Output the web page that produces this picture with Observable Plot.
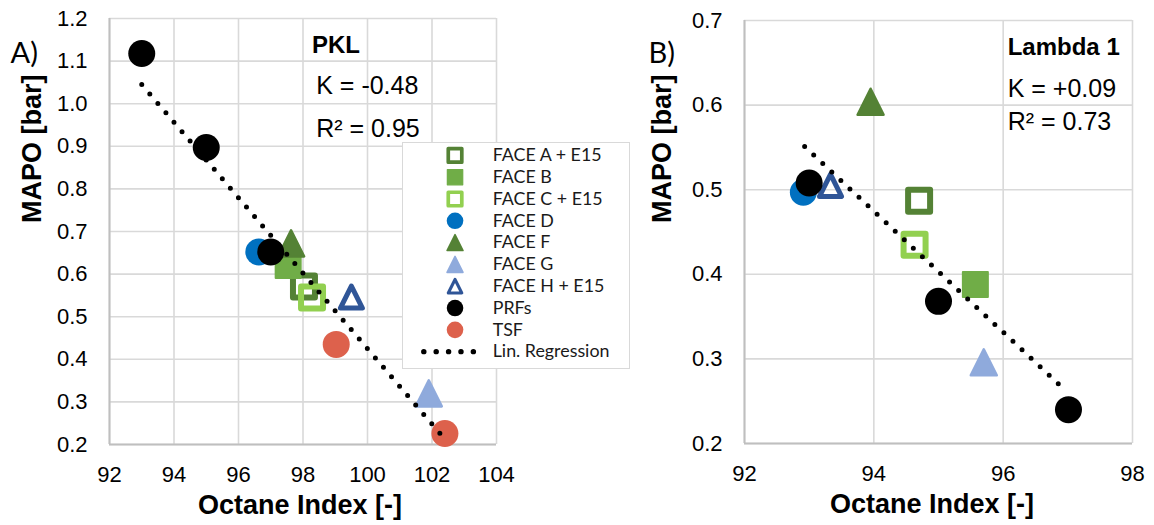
<!DOCTYPE html>
<html><head><meta charset="utf-8">
<script src="https://cdn.jsdelivr.net/npm/d3@7"></script>
<script src="https://cdn.jsdelivr.net/npm/@observablehq/plot@0.6"></script>
<style>
body{margin:0;background:#fff}
#wrap{position:relative;width:1154px;height:525px;overflow:hidden}
.panel{position:absolute;top:0}
#legend{position:absolute;left:402px;top:142px;width:228px;height:227px;background:#fff;border:1px solid #d9d9d9;box-sizing:border-box;z-index:5}
#legend svg{position:absolute;left:-1px;top:-1px}
</style>
</head><body>
<div id="wrap">
  <div id="pA" class="panel" style="left:0"></div>
  <div id="pB" class="panel" style="left:577px"></div>
  <div id="legend"></div>
</div>
<script>
// ---------- data ----------
const categories = ["FACE A + E15","FACE B","FACE C + E15","FACE D","FACE F","FACE G","FACE H + E15","PRFs","TSF"];
const catColors  = ["#548235","#70ad47","#92d050","#0070c0","#548235","#8faadc","#2f5597","#000000","#dd614c"];
const catShapes  = ["square","square","square","circle","triangle","triangle","triangle","circle","circle"];
const catHollow  = [true,false,true,false,false,false,true,false,false];

// Panel A: PKL
const pklSeries = ["FACE A + E15","FACE B","FACE C + E15","FACE D","FACE F","FACE G","FACE H + E15","PRFs","PRFs","PRFs","TSF","TSF"];
const pklOctane = [98.03, 97.54, 98.28, 96.63, 97.63, 101.9, 99.5, 93.0, 95.0, 97.0, 99.03, 102.4];
const pklMapo   = [0.571, 0.620, 0.545, 0.652, 0.672, 0.320, 0.546, 1.118, 0.897, 0.652, 0.435, 0.226];
const pklRegOctane = [93.0, 102.45];
const pklRegMapo   = [1.045, 0.208];

// Panel B: Lambda 1
const lamSeries = ["FACE A + E15","FACE B","FACE C + E15","FACE D","FACE F","FACE G","FACE H + E15","PRFs","PRFs","PRFs"];
const lamOctane = [94.70, 95.57, 94.63, 92.91, 93.95, 95.70, 93.33, 93.00, 95.00, 97.01];
const lamMapo   = [0.487, 0.388, 0.435, 0.497, 0.604, 0.296, 0.505, 0.508, 0.368, 0.240];
const lamRegOctane = [92.93, 96.96];
const lamRegMapo   = [0.551, 0.263];

const xTicksA = [92,94,96,98,100,102,104];
const yTicksA = [0.2,0.3,0.4,0.5,0.6,0.7,0.8,0.9,1.0,1.1,1.2];
const xTicksB = [92,94,96,98];
const yTicksB = [0.2,0.3,0.4,0.5,0.6,0.7];

const legendNames = [...categories, "Lin. Regression"];

// ---------- helpers ----------
const SQ = {draw(ctx,size){const h=Math.sqrt(size)/2;ctx.moveTo(-h,-h);ctx.lineTo(h,-h);ctx.lineTo(h,h);ctx.lineTo(-h,h);ctx.closePath();}};
const TRI = {draw(ctx,size){const h=Math.sqrt(size)/2;ctx.moveTo(0,-h);ctx.lineTo(h,h);ctx.lineTo(-h,h);ctx.closePath();}};
const rSide = s => s/Math.sqrt(Math.PI);

function markerOpts(i, k){
  const shape = catShapes[i], col = catColors[i], hol = catHollow[i];
  if (shape === "circle") return {symbol:"circle", r:13.5*k, fill:col, stroke:"none"};
  if (shape === "square") {
    if (hol) return {symbol:SQ, r:rSide(22*k), fill:"none", stroke:col, strokeWidth:6*k, strokeLinejoin:"round"};
    return {symbol:SQ, r:rSide(25*k), fill:col, stroke:col, strokeWidth:2*k, strokeLinejoin:"round"};
  }
  if (hol) return {symbol:TRI, r:rSide(22*k), fill:"none", stroke:col, strokeWidth:5*k, strokeLinejoin:"round"};
  return {symbol:TRI, r:rSide(26*k), fill:col, stroke:col, strokeWidth:2.5*k, strokeLinejoin:"round"};
}

function panel(opt){
  const pts = opt.series.map((s,i)=>({series:s, octane:opt.octane[i], mapo:opt.mapo[i]}));
  const reg = opt.regX.map((x,i)=>({octane:x, mapo:opt.regY[i]}));
  const seriesMarks = categories.map((c,i)=>{
    const d = pts.filter(p=>p.series===c);
    return d.length ? Plot.dot(d,{x:"octane", y:"mapo", ...markerOpts(i,1)}) : null;
  }).filter(Boolean);
  const textBase = {fontFamily:"Liberation Sans, Arial, sans-serif", textAnchor:"start", lineAnchor:"middle", fill:"#000"};
  return Plot.plot({
    width:577, height:525,
    marginLeft:opt.ml, marginRight:opt.mr, marginTop:opt.mt, marginBottom:opt.mb,
    x:{domain:opt.xDomain, label:null},
    y:{domain:opt.yDomain, label:null},
    style:{fontFamily:"Liberation Sans, Arial, sans-serif", fontSize:"22px", color:"#000", background:"transparent", overflow:"visible"},
    marks:[
      Plot.gridX(opt.xTicks,{stroke:"#d9d9d9", strokeOpacity:1, strokeWidth:1.6}),
      Plot.gridY(opt.yTicks,{stroke:"#d9d9d9", strokeOpacity:1, strokeWidth:1.6}),
      Plot.ruleX([opt.xDomain[0]],{stroke:"#bfbfbf", strokeWidth:2}),
      Plot.ruleY([opt.yDomain[0]],{stroke:"#bfbfbf", strokeWidth:2}),
      Plot.axisX(opt.xTicks,{tickSize:0, tickPadding:22, label:null, tickFormat:d=>String(d)}),
      Plot.axisY(opt.yTicks,{tickSize:0, tickPadding:22, label:null, tickFormat:d3.format(".1f")}),
      ...seriesMarks,
      Plot.line(reg,{x:"octane", y:"mapo", stroke:"#000", strokeWidth:5, strokeDasharray:"0 12.4", strokeLinecap:"round"}),
      Plot.text([opt.title],{x:opt.annX, y:opt.annY[0], ...textBase, fontWeight:"bold", fontSize:24}),
      Plot.text([opt.kText],{x:opt.annX2, y:opt.annY[1], ...textBase, fontSize:25}),
      Plot.text([opt.rText],{x:opt.annX2, y:opt.annY[2], ...textBase, fontSize:25}),
      Plot.text([opt.tag],{frameAnchor:"top-left", dx:opt.tagDx, dy:opt.tagDy, text:d=>d, textAnchor:"start", lineAnchor:"middle", fontFamily:"Lato, Carlito, sans-serif", fontSize:29}),
      Plot.text(["Octane Index [-]"],{frameAnchor:"bottom", dx:opt.xtDx, dy:61, text:d=>d, lineAnchor:"middle", fontWeight:"bold", fontSize:27}),
      Plot.text(["MAPO [bar]"],{frameAnchor:"left", rotate:-90, dx:opt.ytDx, dy:opt.ytDy, text:d=>d, lineAnchor:"middle", fontWeight:"bold", fontSize:27})
    ]
  });
}

document.getElementById("pA").append(panel({
  series:pklSeries, octane:pklOctane, mapo:pklMapo, regX:pklRegOctane, regY:pklRegMapo,
  xDomain:[92,104], yDomain:[0.2,1.2], xTicks:xTicksA, yTicks:yTicksA,
  ml:109, mr:81, mt:18, mb:81,
  title:"PKL", kText:"K = -0.48", rText:"R\u00b2 = 0.95",
  annX:98.28, annX2:98.41, annY:[1.137, 1.0415, 0.9406],
  tag:"A)", tagDx:-99, tagDy:35, xtDx:-3, ytDx:-77, ytDy:-8.5
}));

document.getElementById("pB").append(panel({
  series:lamSeries, octane:lamOctane, mapo:lamMapo, regX:lamRegOctane, regY:lamRegMapo,
  xDomain:[92,98], yDomain:[0.2,0.7], xTicks:xTicksB, yTicks:yTicksB,
  ml:167, mr:22, mt:20, mb:82,
  title:"Lambda 1", kText:"K = +0.09", rText:"R\u00b2 = 0.73",
  annX:96.07, annX2:96.07, annY:[0.668, 0.6196, 0.5806],
  tag:"B)", tagDx:-96, tagDy:33.5, xtDx:-6.5, ytDx:-82, ytDy:-9
}));

// ---------- legend ----------
const legendMarks = categories.map((c,i)=>Plot.dot([c],{x:53, y:d=>d, ...markerOpts(i,0.62)}));
document.getElementById("legend").append(Plot.plot({
  width:228, height:227, margin:0,
  x:{type:"identity", axis:null},
  y:{type:"point", domain:legendNames, range:[11,213], padding:0, axis:null},
  style:{background:"transparent", overflow:"visible"},
  marks:[
    ...legendMarks,
    Plot.ruleY(["Lin. Regression"],{y:d=>d, x1:22, x2:73, stroke:"#000", strokeWidth:5.5, strokeDasharray:"0 12.5", strokeLinecap:"round"}),
    Plot.text(legendNames,{x:91, y:d=>d, text:d=>d, textAnchor:"start", lineAnchor:"middle", fontFamily:"Lato, Carlito, sans-serif", fontSize:18, fill:"#1a1a1a"})
  ]
}));
</script>
</body></html>
